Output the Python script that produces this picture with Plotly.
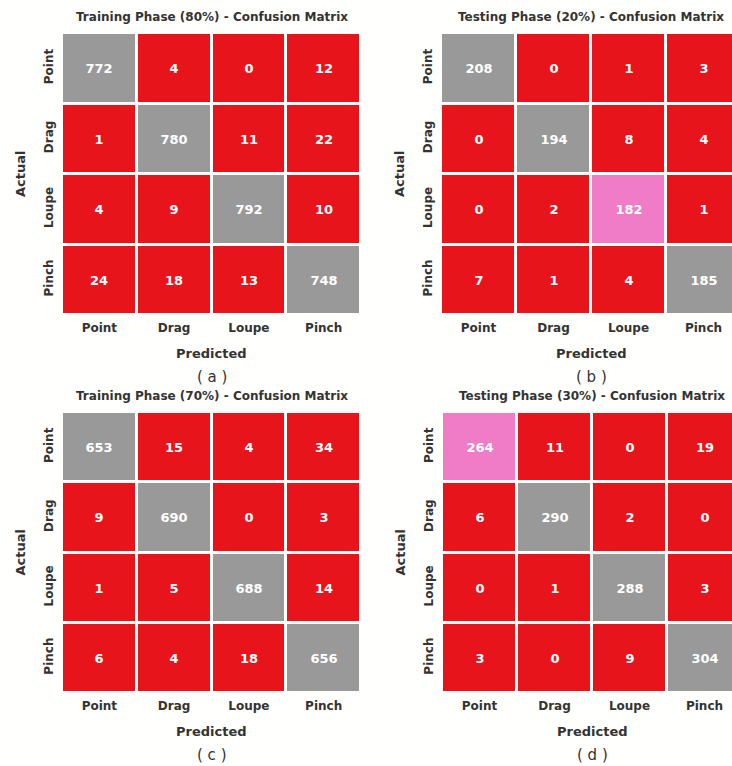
import plotly.graph_objects as go

# Gesture classes (rows = actual, columns = predicted)
classes = ["Point", "Drag", "Loupe", "Pinch"]

train_80 = [[772, 4, 0, 12],
            [1, 780, 11, 22],
            [4, 9, 792, 10],
            [24, 18, 13, 748]]
test_20 = [[208, 0, 1, 3],
           [0, 194, 8, 4],
           [0, 2, 182, 1],
           [7, 1, 4, 185]]
train_70 = [[653, 15, 4, 34],
            [9, 690, 0, 3],
            [1, 5, 688, 14],
            [6, 4, 18, 656]]
test_30 = [[264, 11, 0, 19],
           [6, 290, 2, 0],
           [0, 1, 288, 3],
           [3, 0, 9, 304]]

titles = ["Training Phase (80%) - Confusion Matrix",
          "Testing Phase (20%) - Confusion Matrix",
          "Training Phase (70%) - Confusion Matrix",
          "Testing Phase (30%) - Confusion Matrix"]
captions = ["( a )", "( b )", "( c )", "( d )"]

W, H = 732, 766
RED, GREY, PINK = "#E8141B", "#999999", "#F07CC8"
INK = "#333333"
PAPER = "#FFFFFE"
FONT = "DejaVu Sans"

# panel geometry in pixels: left, top, full width, height
panels = [
    (62, 33, 299, 282),
    (441, 33, 300, 282),
    (62, 412, 299, 281),
    (442, 412, 300, 281),
]
matrices = [train_80, test_20, train_70, test_30]
is_test = [False, True, False, True]


def color_codes(m, highlight):
    """0 = off-diagonal, 0.5 = diagonal, 1 = weakest diagonal on test sets."""
    n = len(m)
    diag = [m[i][i] for i in range(n)]
    weakest = diag.index(min(diag)) if highlight else -1
    codes = []
    for i in range(n):
        row = []
        for j in range(n):
            if i == j:
                row.append(1.0 if i == weakest else 0.5)
            else:
                row.append(0.0)
        codes.append(row)
    return codes


fig = go.Figure()
annotations = []
layout_axes = {}

for k, (m, (left, top, pw, ph)) in enumerate(zip(matrices, panels)):
    sfx = "" if k == 0 else str(k + 1)
    xa, ya = "x" + sfx, "y" + sfx
    right = min(left + pw, W)
    col_w = pw / 4.0
    x_hi = -0.5 + (right - left) / col_w

    fig.add_trace(go.Heatmap(
        z=color_codes(m, is_test[k]),
        x=classes, y=classes,
        text=m, texttemplate="%{text}",
        textfont=dict(color="white", size=13, family=FONT, weight="bold"),
        colorscale=[[0, RED], [0.5, GREY], [1, PINK]],
        zmin=0, zmax=1, showscale=False,
        xgap=3, ygap=3, hoverinfo="skip",
        xaxis=xa, yaxis=ya,
    ))

    layout_axes["xaxis" + sfx] = dict(
        domain=[left / W, right / W], anchor=ya, automargin=False,
        range=[-0.5, x_hi], showgrid=False, zeroline=False, showline=False,
        ticks="", ticklabelstandoff=4,
        tickfont=dict(family=FONT, size=12, color=INK, weight="bold"),
        fixedrange=True,
    )
    layout_axes["yaxis" + sfx] = dict(
        domain=[1 - (top + ph) / H, 1 - top / H], anchor=xa, automargin=False,
        autorange="reversed", showgrid=False, zeroline=False, showline=False,
        ticks="", tickangle=-90, ticklabelstandoff=6,
        tickfont=dict(family=FONT, size=12, color=INK, weight="bold"),
        fixedrange=True,
    )

    cx = (left + pw / 2) / W
    bottom = top + ph
    annotations += [
        dict(text=titles[k], x=cx, y=1 - (top - 16) / H, xref="paper", yref="paper",
             showarrow=False, xanchor="center", yanchor="middle",
             font=dict(family=FONT, size=12, color=INK, weight="bold")),
        dict(text="Predicted", x=cx, y=1 - (bottom + 38) / H, xref="paper", yref="paper",
             showarrow=False, xanchor="center", yanchor="middle",
             font=dict(family=FONT, size=13, color=INK, weight="bold")),
        dict(text=captions[k], x=cx, y=1 - (bottom + 62) / H, xref="paper", yref="paper",
             showarrow=False, xanchor="center", yanchor="middle",
             font=dict(family=FONT, size=15, color=INK)),
        dict(text="Actual", x=(left - 42) / W, y=1 - (top + ph / 2) / H,
             xref="paper", yref="paper", showarrow=False, textangle=-90,
             xanchor="center", yanchor="middle",
             font=dict(family=FONT, size=13, color=INK, weight="bold")),
    ]

fig.update_layout(
    width=W, height=H,
    margin=dict(l=0, r=0, t=0, b=0),
    paper_bgcolor=PAPER, plot_bgcolor=PAPER,
    annotations=annotations,
    **layout_axes,
)

fig.write_html("out.html")
